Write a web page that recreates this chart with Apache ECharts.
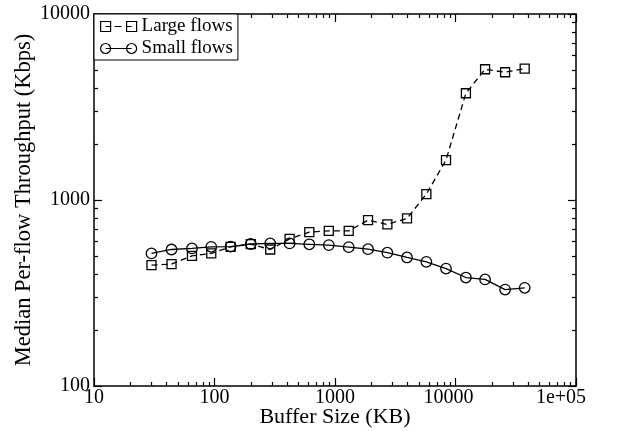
<!DOCTYPE html>
<html>
<head>
<meta charset="utf-8">
<script src="https://cdn.jsdelivr.net/npm/echarts@6/dist/echarts.min.js"></script>
<style>
  html, body { margin: 0; padding: 0; background: #fff; }
  #chart { width: 620px; height: 431px; }
</style>
</head>
<body>
<div id="chart"></div>
<script>
// Buffer sizes (KB) at which throughput was measured
const bufferKB = [30, 44, 65, 94, 136, 200, 290, 420, 612, 888, 1300, 1880, 2720, 3960, 5730, 8340, 12200, 17600, 25800, 37500];
// Median per-flow throughput (Kbps)
const largeFlows = [446, 452, 501, 516, 560, 579, 542, 618, 672, 682, 682, 779, 739, 796, 1076, 1640, 3748, 5046, 4862, 5083];
const smallFlows = [516, 542, 549, 560, 562, 580, 584, 584, 578, 572, 558, 544, 521, 491, 465, 428, 383, 374, 330, 337];

const seriesNames = ['Large flows', 'Small flows'];
const xMajorTicks = [10, 100, 1000, 10000, 100000];
const xTickLabels = ['10', '100', '1000', '10000', '1e+05'];
const yMajorTicks = [100, 1000, 10000];
const yTickLabels = ['100', '1000', '10000'];

const FONT = '"Liberation Serif", "Times New Roman", serif';

// intermediate log ticks (2..9 within each decade)
function minorTicks(majors) {
  const out = [];
  for (let i = 0; i < majors.length - 1; i++) {
    for (let m = 2; m <= 9; m++) out.push(m * majors[i]);
  }
  return out;
}
const xMinorTicks = minorTicks(xMajorTicks);
const yMinorTicks = minorTicks(yMajorTicks);

const lineCol = '#000';

function logAxis(kind, position, ticks, tickLen, withLine, labels, extra) {
  const isX = kind === 'x';
  const majors = isX ? xMajorTicks : yMajorTicks;
  const ax = {
    type: 'log',
    logBase: 10,
    min: majors[0],
    max: majors[majors.length - 1],
    position: position,
    axisLine: { show: withLine, onZero: false, lineStyle: { color: lineCol, width: 1.5 } },
    axisTick: { show: true, inside: true, length: tickLen, customValues: ticks,
                lineStyle: { color: lineCol, width: 1.2 } },
    axisLabel: { show: false },
    splitLine: { show: false },
    minorTick: { show: false },
    silent: true
  };
  if (labels) {
    ax.axisLabel = {
      show: true,
      customValues: majors,
      color: '#000',
      fontFamily: FONT,
      fontSize: 20,
      margin: isX ? 2 : 4,
      formatter: function (v) {
        const idx = majors.findIndex(function (m) { return Math.abs(m - v) / m < 1e-6; });
        const txt = idx >= 0 ? labels[idx] : String(v);
        if (isX && idx === 3) return '{s7|' + txt + '}';
        if (isX && idx === 4) return '{s15|' + txt + '}';
        return txt;
      },
      rich: {
        s7: { fontFamily: FONT, fontSize: 20, color: '#000', padding: [0, 14, 0, 0] },
        s15: { fontFamily: FONT, fontSize: 20, color: '#000', padding: [0, 30, 0, 0] }
      }
    };
  }
  return Object.assign(ax, extra || {});
}

const xAxes = [
  logAxis('x', 'bottom', xMajorTicks, 8, true, xTickLabels, {
    name: 'Buffer Size (KB)', nameLocation: 'middle', nameGap: 20, nameMoveOverlap: false,
    nameTextStyle: { fontFamily: FONT, fontSize: 22, color: '#000' }
  }),
  logAxis('x', 'bottom', xMinorTicks, 4, false, null),
  logAxis('x', 'top', xMajorTicks, 8, true, null),
  logAxis('x', 'top', xMinorTicks, 4, false, null)
];
const yAxes = [
  logAxis('y', 'left', yMajorTicks, 8, true, yTickLabels, {
    name: 'Median Per-flow Throughput (Kbps)', nameLocation: 'middle', nameGap: 58, nameMoveOverlap: false,
    nameTextStyle: { fontFamily: FONT, fontSize: 22.5, color: '#000' }
  }),
  logAxis('y', 'left', yMinorTicks, 4, false, null),
  logAxis('y', 'right', yMajorTicks, 8, true, null),
  logAxis('y', 'right', yMinorTicks, 4, false, null)
];

function pairs(xs, ys) { return xs.map(function (x, i) { return [x, ys[i]]; }); }

// legend glyphs: symbol - line - symbol, drawn as outlines
const squareIcon = 'path://M0,0 L10,0 L10,10 L0,10 Z M5,5 L10,5 M14,5 L21,5 M26,5 L31,5 M26,0 L36,0 L36,10 L26,10 Z';
const circleIcon = 'path://M0,5 A5,5 0 1,0 10,5 A5,5 0 1,0 0,5 Z M5,5 L31,5 M26,5 A5,5 0 1,0 36,5 A5,5 0 1,0 26,5 Z';

const chart = echarts.init(document.getElementById('chart'), null, { renderer: 'canvas' });
chart.setOption({
  animation: false,
  backgroundColor: '#fff',
  grid: { left: 94, right: 44, top: 14, bottom: 45, containLabel: false, outerBoundsMode: 'none' },
  xAxis: xAxes,
  yAxis: yAxes,
  legend: {
    left: 94, top: 14,
    orient: 'vertical',
    backgroundColor: '#fff',
    borderColor: '#000',
    borderWidth: 1,
    borderRadius: 0,
    padding: [3, 5, 2, 6],
    itemGap: 3,
    itemWidth: 36,
    itemHeight: 10,
    selectedMode: false,
    textStyle: { fontFamily: FONT, fontSize: 19, color: '#000' },
    itemStyle: { color: 'transparent', borderColor: '#000', borderWidth: 1.2 },
    data: [
      { name: seriesNames[0], icon: squareIcon },
      { name: seriesNames[1], icon: circleIcon }
    ]
  },
  series: [
    {
      name: seriesNames[0],
      type: 'line',
      data: pairs(bufferKB, largeFlows),
      symbol: 'rect',
      symbolSize: 9,
      showAllSymbol: true,
      lineStyle: { color: '#000', width: 1.3, type: [6, 4] },
      itemStyle: { color: 'transparent', borderColor: '#000', borderWidth: 1.3 },
      emphasis: { disabled: true },
      z: 3
    },
    {
      name: seriesNames[1],
      type: 'line',
      data: pairs(bufferKB, smallFlows),
      symbol: 'circle',
      symbolSize: 10.5,
      showAllSymbol: true,
      lineStyle: { color: '#000', width: 1.3 },
      itemStyle: { color: 'transparent', borderColor: '#000', borderWidth: 1.3 },
      emphasis: { disabled: true },
      z: 3
    }
  ]
});
</script>
</body>
</html>
